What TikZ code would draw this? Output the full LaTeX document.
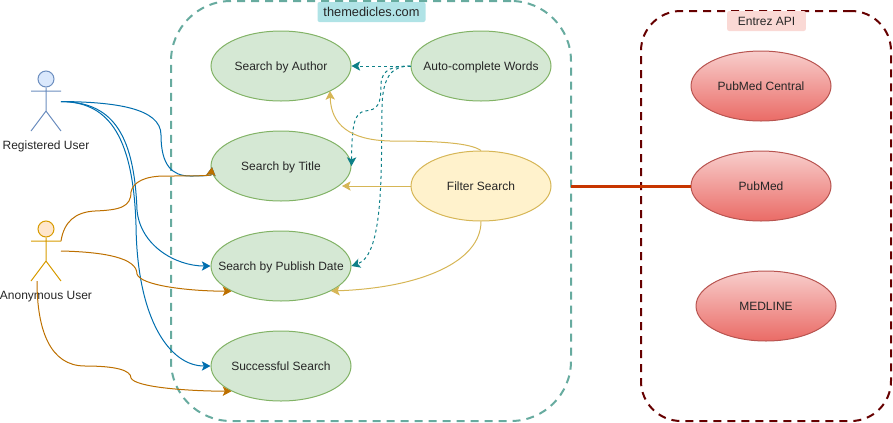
\documentclass[tikz,border=0pt]{standalone}
\usepackage{fontspec}
\setmainfont{Liberation Sans}
\usetikzlibrary{arrows.meta,shapes.geometric}
\definecolor{boxTeal}{HTML}{67AB9F}
\definecolor{boxRed}{HTML}{660000}
\definecolor{tagTeal}{HTML}{B0E3E6}
\definecolor{tagRed}{HTML}{FAD9D5}
\definecolor{caseFill}{HTML}{D5E8D4}
\definecolor{caseDraw}{HTML}{82B366}
\definecolor{filterFill}{HTML}{FFF2CC}
\definecolor{filterDraw}{HTML}{D6B656}
\definecolor{apiTop}{HTML}{F8CECC}
\definecolor{apiBot}{HTML}{EA6B66}
\definecolor{apiDraw}{HTML}{B85450}
\definecolor{regFill}{HTML}{DAE8FC}
\definecolor{regDraw}{HTML}{6C8EBF}
\definecolor{anonFill}{HTML}{FFE6CC}
\definecolor{anonDraw}{HTML}{D79B00}
\definecolor{regEdge}{HTML}{006EAF}
\definecolor{anonEdge}{HTML}{BD7000}
\definecolor{autoEdge}{HTML}{0E8088}
\definecolor{linkEdge}{HTML}{C73500}

\begin{document}
\begin{tikzpicture}[
    x=0.75pt, y=-0.75pt,
    >={Stealth[length=6.5pt,width=7pt,inset=1.5pt]},
    every node/.style = {inner sep=0pt, font=\fontsize{9}{11}\selectfont, text=black!85,
                         text height=8pt, text depth=1.5pt},
    usecase/.style = {ellipse, draw=caseDraw, fill=caseFill, line width=0.75pt, inner xsep=-20pt,
                      minimum width=105pt, minimum height=52.5pt},
    filter/.style  = {usecase, draw=filterDraw, fill=filterFill},
    api/.style     = {usecase, draw=apiDraw, top color=apiTop, bottom color=apiBot},
    tag/.style     = {rectangle, rounded corners=1.5pt, minimum height=15pt},
    bound/.style   = {rectangle, rounded corners=45pt, line width=1.5pt, dash pattern=on 6pt off 4.5pt},
    regline/.style  = {->, regEdge, line width=0.75pt},
    anonline/.style = {->, anonEdge, line width=0.75pt},
    autoline/.style = {->, autoEdge, line width=0.75pt, dash pattern=on 2.25pt off 2.25pt},
    filtline/.style = {->, filterDraw, line width=0.75pt},
  ]
  \useasboundingbox (0,0) rectangle (893,422);
  % system boundaries
  \node[bound, draw=boxTeal, minimum width=300pt, minimum height=315pt] (site) at (371,211) {};
  \node[bound, draw=boxRed, rounded corners=30pt, minimum width=187.5pt, minimum height=307.5pt] (entrez) at (766,216) {};
  \node[tag, fill=tagTeal, minimum width=81pt] (siteTag) at (371.5,12) {\fontsize{9.6}{12}\selectfont themedicles.com};
  \node[tag, fill=tagRed, minimum width=59pt] (entrezTag) at (766.5,21) {Entrez API};
  % use cases
  \node[usecase] (author)  at (281,66)  {Search by Author};
  \node[usecase] (title)   at (281,166) {Search by Title};
  \node[usecase] (date)    at (281,266) {Search by Publish Date};
  \node[usecase] (success) at (281,366) {Successful Search};
  \node[usecase] (auto)    at (481,66)  {Auto-complete Words};
  \node[filter]  (filt)    at (481,186) {Filter Search};
  % entrez databases
  \node[api] (central) at (761,86)  {PubMed Central};
  \node[api] (pubmed)  at (761,186) {PubMed};
  \node[api] (medline) at (766,306) {MEDLINE};
  % actors
  \foreach \who/\yy/\col/\lab in {reg/79/reg/Registered User, anon/229/anon/Anonymous User}{
    \node[circle, draw=\col Draw, fill=\col Fill, line width=0.75pt, minimum size=12pt] (\who Head) at (46,\yy) {};
    \coordinate (\who Neck) at (46,\yy+12);
    \coordinate (\who Hip)  at (46,\yy+32);
    \coordinate (\who L)    at (31,\yy+12);
    \coordinate (\who R)    at (61,\yy+12);
    \coordinate (\who FL)   at (31,\yy+52);
    \coordinate (\who FR)   at (61,\yy+52);
    \draw[\col Draw, line width=0.75pt] (\who Head) -- (\who Hip) (\who L) -- (\who R)
      (\who FL) -- (\who Hip) -- (\who FR);
    \node (\who Lab) at (46,\yy+66) {\lab};
  }
  \coordinate (regOut) at (61,101.5);
  \coordinate (anonOutA) at (61,241);
  \coordinate (anonOutB) at (61,251);
  \coordinate (anonOutC) at (37,281);
  \coordinate (siteEast) at (571,186);
  \coordinate (titleTip) at (212,167);
  \coordinate (authorTip) at (330,91);
  \coordinate (titleFilt) at (342,186);
  % registered user edges
  \draw[regline] (regOut) .. controls (115,102) and (161,108) .. (161,135)
    .. controls (161,165) and (172,176) .. (190,176) .. controls (198,176) and (205,176) .. (211,175) -- (titleTip);
  \draw[regline] (regOut) .. controls (110,102) and (134,130) .. (137,210)
    .. controls (140,245) and (175,266) .. (date.west);
  \draw[regline] (regOut) .. controls (105,102) and (133,130) .. (136,225)
    .. controls (137,320) and (170,366) .. (success.west);
  % anonymous user edges
  \draw[anonline] (anonOutA) .. controls (64,222) and (75,212) .. (95,211)
    .. controls (120,210) and (131,207) .. (131,192) .. controls (133,182) and (145,176) .. (165,176)
    .. controls (185,176) and (205,176) .. (211,175) -- (titleTip);
  \draw[anonline] (anonOutB) .. controls (105,252) and (137,258) .. (137,274)
    .. controls (140,285) and (185,291) .. (date.207);
  \draw[anonline] (anonOutC) .. controls (37,330) and (50,366) .. (85,366)
    .. controls (115,366) and (131,370) .. (131,378) .. controls (135,387) and (185,391) .. (success.207);
  % autocomplete edges
  \draw[autoline] (auto.west) -- (author.east);
  \draw[autoline] (auto.west) .. controls (395,66) and (381,68) .. (381,85)
    .. controls (381,104) and (378,110) .. (365,111) .. controls (354,113) and (352,125) .. (title.east);
  \draw[autoline] (auto.west) .. controls (395,66) and (382,72) .. (382,110)
    .. controls (381,170) and (384,255) .. (date.east);
  % filter edges
  \draw[filtline] (filt.north) .. controls (470,143) and (440,141) .. (390,141)
    .. controls (350,140) and (331,125) .. (authorTip);
  \draw[filtline] (filt.west) -- (titleFilt);
  \draw[filtline] (filt.south) .. controls (481,262) and (420,288) .. (331,291);
  % link to the api
  \draw[linkEdge, line width=2.25pt] (siteEast) -- (pubmed.west);
\end{tikzpicture}
\end{document}
